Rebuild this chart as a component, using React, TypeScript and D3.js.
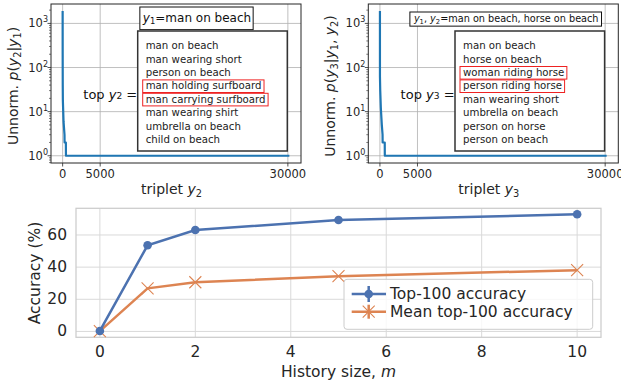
import React, { useEffect, useRef } from 'react';
import * as d3 from 'd3';

// top-left panel: p(y2 | y1), sorted triplets
const tripletIdx2 = [0, 5, 15, 30, 120, 250, 260, 430, 440, 30200];
const tripletP2 = [1900, 200, 40, 18, 6, 3, 2, 2, 1, 1];
// top-right panel: p(y3 | y1, y2)
const tripletIdx3 = [0, 3, 40, 120, 250, 350, 360, 640, 650, 30200];
const tripletP3 = [1900, 62, 30, 12, 5, 3, 2, 2, 1, 1];

const tripletTicks = [0, 5000, 30000];
const logTicks = [1, 10, 100, 1000];
const logTickExp = ['0', '1', '2', '3'];

const topY2 = [
  'man on beach',
  'man wearing short',
  'person on beach',
  'man holding surfboard',
  'man carrying surfboard',
  'man wearing shirt',
  'umbrella on beach',
  'child on beach',
];
const markedY2 = [3, 4];
const topY3 = [
  'man on beach',
  'horse on beach',
  'woman riding horse',
  'person riding horse',
  'man wearing short',
  'umbrella on beach',
  'person on horse',
  'person on beach',
];
const markedY3 = [2, 3];

// bottom panel
const historySize = [0, 1, 2, 5, 10];
const top100 = [0.3, 53.6, 63.1, 69.3, 72.9];
const meanTop100 = [0.2, 26.8, 30.6, 34.4, 38.1];
const historyTicks = [0, 2, 4, 6, 8, 10];
const accTicks = [0, 20, 40, 60];

type Seg = [string, 'n' | 'i' | 'sub'];

const FONT = 'DejaVu Sans, sans-serif';

function rich(text: any, segs: Seg[], size: number) {
  let shifted = false;
  segs.forEach(([s, k]) => {
    const t = text.append('tspan').text(s);
    if (k === 'i') t.attr('font-style', 'italic');
    if (k === 'sub') {
      t.attr('font-size', size * 0.7);
      if (!shifted) t.attr('dy', size * 0.22);
      shifted = true;
    } else if (shifted) {
      t.attr('dy', -size * 0.22);
      shifted = false;
    }
  });
}

function drawTop(svg: any, o: any) {
  const x0 = o.dx + 51;
  const x1 = o.dx + 301;
  const top = 4;
  const bottom = 163;
  const x = d3.scaleLinear().domain([-1550, 31750]).range([x0, x1]);
  const y = d3.scaleLog().domain([10 ** -0.164, 10 ** 3.44]).range([bottom, top]);
  const g = svg.append('g').attr('font-family', FONT);

  // grid
  tripletTicks.forEach(v => {
    g.append('line').attr('x1', x(v)).attr('x2', x(v)).attr('y1', top).attr('y2', bottom)
      .attr('stroke', '#b0b0b0').attr('stroke-width', 0.8);
  });
  logTicks.forEach(v => {
    g.append('line').attr('x1', x0).attr('x2', x1).attr('y1', y(v)).attr('y2', y(v))
      .attr('stroke', '#b0b0b0').attr('stroke-width', 0.8);
  });

  // line
  const data = o.idx.map((d: number, i: number) => [d, o.p[i]]);
  g.append('path').datum(data)
    .attr('fill', 'none').attr('stroke', '#1f77b4').attr('stroke-width', 2.2)
    .attr('stroke-linejoin', 'round')
    .attr('d', d3.line().x((d: any) => x(d[0])).y((d: any) => y(d[1])));

  // spines
  g.append('rect').attr('x', x0).attr('y', top).attr('width', x1 - x0).attr('height', bottom - top)
    .attr('fill', 'none').attr('stroke', '#262626').attr('stroke-width', 1);

  // y ticks
  const [lo, hi] = y.domain();
  for (let e = -1; e <= 3; e++) {
    for (let m = 2; m <= 9; m++) {
      const v = m * 10 ** e;
      if (v < lo || v > hi) continue;
      g.append('line').attr('x1', x0).attr('x2', x0 - 2).attr('y1', y(v)).attr('y2', y(v))
        .attr('stroke', '#262626').attr('stroke-width', 0.6);
    }
  }
  logTicks.forEach((v, i) => {
    g.append('line').attr('x1', x0).attr('x2', x0 - 3.5).attr('y1', y(v)).attr('y2', y(v))
      .attr('stroke', '#262626').attr('stroke-width', 0.8);
    const t = g.append('text').attr('x', x0 - 3).attr('y', y(v) + 4)
      .attr('text-anchor', 'end').attr('font-size', 11.5).attr('fill', '#262626');
    t.append('tspan').text('10');
    t.append('tspan').text(logTickExp[i]).attr('font-size', 8).attr('dy', -5);
  });

  // x ticks
  tripletTicks.forEach(v => {
    g.append('line').attr('x1', x(v)).attr('x2', x(v)).attr('y1', bottom).attr('y2', bottom + 3.5)
      .attr('stroke', '#262626').attr('stroke-width', 0.8);
    g.append('text').attr('x', x(v)).attr('y', 173.5).attr('dominant-baseline', 'central')
      .attr('text-anchor', 'middle').attr('font-size', 11.5).attr('fill', '#262626').text(d3.format('d')(v));
  });

  // axis labels
  const xl = g.append('text').attr('x', o.dx + 171.5).attr('y', 194)
    .attr('text-anchor', 'middle').attr('font-size', 14).attr('fill', '#262626');
  rich(xl, o.xlabel, 14);
  const yl = g.append('text').attr('transform', `translate(${o.dx + 18},86) rotate(-90)`)
    .attr('text-anchor', 'middle').attr('font-size', 14).attr('fill', '#262626');
  rich(yl, o.ylabel, 14);

  // title box
  const tt = g.append('text').attr('x', o.dx + o.titleX).attr('y', o.titleY)
    .attr('text-anchor', 'middle').attr('font-size', o.titleSize).attr('fill', '#111');
  rich(tt, o.title, o.titleSize);
  const tb = (tt.node() as SVGTextElement).getBBox();
  g.insert('rect', () => tt.node())
    .attr('x', tb.x - o.titlePad[0]).attr('y', tb.y - o.titlePad[1])
    .attr('width', tb.width + 2 * o.titlePad[0]).attr('height', tb.height + 2 * o.titlePad[1])
    .attr('fill', 'white').attr('stroke', '#111').attr('stroke-width', 1);

  // list box
  g.append('rect').attr('x', o.dx + 137.7).attr('y', 31).attr('width', 149.6).attr('height', 120)
    .attr('fill', 'white').attr('stroke', '#333').attr('stroke-width', 1.5);
  o.list.forEach((s: string, i: number) => {
    const t = g.append('text').attr('x', o.dx + 145.7).attr('y', 45.7 + i * 13.4)
      .attr('dominant-baseline', 'central').attr('font-size', 10.2).attr('fill', '#222').text(s);
    if (o.marked.includes(i)) {
      const b = (t.node() as SVGTextElement).getBBox();
      g.append('rect').attr('x', b.x - 3).attr('y', b.y - 0.5)
        .attr('width', b.width + 5.5).attr('height', b.height + 1.6)
        .attr('fill', 'none').attr('stroke', '#ee2222').attr('stroke-width', 1);
    }
  });
  const lt = g.append('text').attr('x', o.dx + 83.3).attr('y', 93.5).attr('dominant-baseline', 'central')
    .attr('font-size', 13).attr('fill', '#111');
  rich(lt, o.listLabel, 13);
}

function drawBottom(svg: any) {
  const x0 = 76, x1 = 601, top = 208.3, bottom = 337.3;
  const x = d3.scaleLinear().domain([-0.5, 10.5]).range([x0, x1]);
  const y = d3.scaleLinear().domain([-3.65, 76.6]).range([bottom, top]);
  const g = svg.append('g').attr('font-family', FONT);
  const grid = '#d9d9d9';

  historyTicks.forEach(v => {
    g.append('line').attr('x1', x(v)).attr('x2', x(v)).attr('y1', top).attr('y2', bottom)
      .attr('stroke', grid).attr('stroke-width', 1);
    g.append('text').attr('x', x(v)).attr('y', 351.7).attr('dominant-baseline', 'central')
      .attr('text-anchor', 'middle').attr('font-size', 15.5).attr('fill', '#262626').text(v);
  });
  accTicks.forEach(v => {
    g.append('line').attr('x1', x0).attr('x2', x1).attr('y1', y(v)).attr('y2', y(v))
      .attr('stroke', grid).attr('stroke-width', 1);
    g.append('text').attr('x', 67).attr('y', y(v)).attr('dominant-baseline', 'central')
      .attr('text-anchor', 'end').attr('font-size', 15.5).attr('fill', '#262626').text(v);
  });
  g.append('rect').attr('x', x0).attr('y', top).attr('width', x1 - x0).attr('height', bottom - top)
    .attr('fill', 'none').attr('stroke', '#cccccc').attr('stroke-width', 1.25);

  const blue = '#4c72b0';
  const orange = '#dd8452';
  const line = d3.line<number>().x((d, i) => x(historySize[i])).y(d => y(d));

  g.append('path').datum(meanTop100).attr('fill', 'none').attr('stroke', orange)
    .attr('stroke-width', 2.5).attr('d', line);
  meanTop100.forEach((v, i) => {
    const cx = x(historySize[i]), cy = y(v), r = 6;
    g.append('path').attr('d', `M${cx - r},${cy - r}L${cx + r},${cy + r}M${cx - r},${cy + r}L${cx + r},${cy - r}`)
      .attr('stroke', orange).attr('stroke-width', 1.1);
  });
  g.append('path').datum(top100).attr('fill', 'none').attr('stroke', blue)
    .attr('stroke-width', 2.5).attr('d', line);
  top100.forEach((v, i) => {
    g.append('circle').attr('cx', x(historySize[i])).attr('cy', y(v)).attr('r', 4.3).attr('fill', blue);
  });

  // legend
  g.append('rect').attr('x', 344).attr('y', 279.3).attr('width', 248.7).attr('height', 50).attr('rx', 3)
    .attr('fill', 'white').attr('fill-opacity', 0.8).attr('stroke', '#cccccc').attr('stroke-width', 1);
  const ly1 = 294, ly2 = 311.7;
  g.append('line').attr('x1', 351.7).attr('x2', 386).attr('y1', ly1).attr('y2', ly1)
    .attr('stroke', blue).attr('stroke-width', 2.5);
  g.append('line').attr('x1', 368.7).attr('x2', 368.7).attr('y1', ly1 - 8).attr('y2', ly1 + 8)
    .attr('stroke', blue).attr('stroke-width', 2.5);
  g.append('circle').attr('cx', 368.7).attr('cy', ly1).attr('r', 4.3).attr('fill', blue);
  g.append('line').attr('x1', 351.7).attr('x2', 386).attr('y1', ly2).attr('y2', ly2)
    .attr('stroke', orange).attr('stroke-width', 2.5);
  g.append('line').attr('x1', 368.7).attr('x2', 368.7).attr('y1', ly2 - 7).attr('y2', ly2 + 7)
    .attr('stroke', orange).attr('stroke-width', 2.5);
  g.append('path').attr('d', `M362.7,${ly2 - 6}L374.7,${ly2 + 6}M362.7,${ly2 + 6}L374.7,${ly2 - 6}`)
    .attr('stroke', orange).attr('stroke-width', 1.1);
  g.append('text').attr('x', 390).attr('y', ly1).attr('dominant-baseline', 'central')
    .attr('font-size', 15.5).attr('fill', '#262626').text('Top-100 accuracy');
  g.append('text').attr('x', 390).attr('y', ly2).attr('dominant-baseline', 'central')
    .attr('font-size', 15.5).attr('fill', '#262626').text('Mean top-100 accuracy');

  const xl = g.append('text').attr('x', 338.5).attr('y', 371.7).attr('dominant-baseline', 'central')
    .attr('text-anchor', 'middle').attr('font-size', 15.5).attr('fill', '#262626');
  rich(xl, [['History size, ', 'n'], ['m', 'i']], 15.5);
  g.append('text').attr('transform', `translate(35,273) rotate(-90)`).attr('dominant-baseline', 'central')
    .attr('text-anchor', 'middle').attr('font-size', 15.5).attr('fill', '#262626').text('Accuracy (%)');
}

export default function App() {
  const ref = useRef<SVGSVGElement>(null);
  useEffect(() => {
    const svg = d3.select(ref.current);
    svg.selectAll('*').remove();
    drawTop(svg, {
      dx: 0,
      idx: tripletIdx2,
      p: tripletP2,
      xlabel: [['triplet ', 'n'], ['y', 'i'], ['2', 'sub']],
      ylabel: [['Unnorm. ', 'n'], ['p', 'i'], ['(', 'n'], ['y', 'i'], ['2', 'sub'], ['|', 'n'], ['y', 'i'], ['1', 'sub'], [')', 'n']],
      title: [['y', 'i'], ['1', 'sub'], ['=man on beach', 'n']],
      titleX: 197, titleY: 21.5, titleSize: 12, titlePad: [2, 3.5],
      list: topY2,
      marked: markedY2,
      listLabel: [['top ', 'n'], ['y', 'i'], ['2', 'sub'], [' =', 'n']],
    });
    drawTop(svg, {
      dx: 317.3,
      idx: tripletIdx3,
      p: tripletP3,
      xlabel: [['triplet ', 'n'], ['y', 'i'], ['3', 'sub']],
      ylabel: [['Unnorm. ', 'n'], ['p', 'i'], ['(', 'n'], ['y', 'i'], ['3', 'sub'], ['|', 'n'], ['y', 'i'], ['1', 'sub'], [', ', 'n'], ['y', 'i'], ['2', 'sub'], [')', 'n']],
      title: [['y', 'i'], ['1', 'sub'], [', ', 'n'], ['y', 'i'], ['2', 'sub'], ['=man on beach, horse on beach', 'n']],
      titleX: 188.9, titleY: 21.5, titleSize: 9.7, titlePad: [3, 0.5],
      list: topY3,
      marked: markedY3,
      listLabel: [['top ', 'n'], ['y', 'i'], ['3', 'sub'], [' =', 'n']],
    });
    drawBottom(svg);
  }, []);
  return (
    <svg ref={ref} width={621} height={383} style={{ position: 'absolute', left: 0, top: 0, background: 'white' }} />
  );
}
